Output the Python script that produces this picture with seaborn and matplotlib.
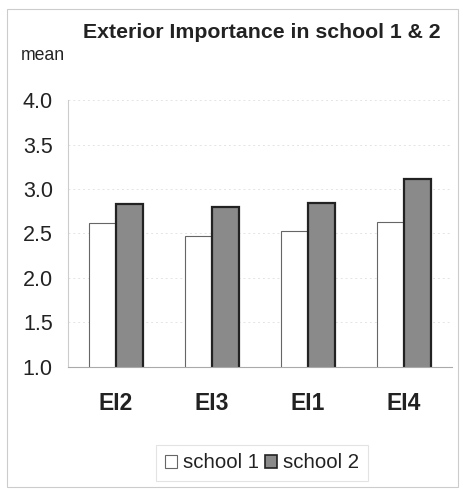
import matplotlib
matplotlib.use("Agg")
import matplotlib.pyplot as plt
import seaborn as sns
import pandas as pd
from matplotlib.patches import Rectangle

# Item means per school
items = ["EI2", "EI3", "EI1", "EI4"]
school1 = [2.62, 2.47, 2.53, 2.63]
school2 = [2.83, 2.80, 2.84, 3.11]
groups = ["school 1", "school 2"]
yticks = [1.0, 1.5, 2.0, 2.5, 3.0, 3.5, 4.0]

df = pd.DataFrame({
    "item": items * 2,
    "mean": school1 + school2,
    "school": [groups[0]] * len(items) + [groups[1]] * len(items),
})

sns.set_style("white")
plt.rcParams["font.family"] = ["Liberation Sans", "DejaVu Sans"]

fig = plt.figure(figsize=(4.63, 4.93), dpi=100)
ax = fig.add_axes([0.147, 0.256, 0.829, 0.541])

sns.barplot(data=df, x="item", y="mean", hue="school", order=items,
            hue_order=groups, palette=["#ffffff", "#8a8a8a"],
            width=0.57, ax=ax, legend=False)

edge = {groups[0]: ("#666666", 0.8), groups[1]: ("#222222", 1.6)}
for container, g in zip(ax.containers, groups):
    for bar in container:
        bar.set_edgecolor(edge[g][0])
        bar.set_linewidth(edge[g][1])

ax.set_ylim(1.0, 4.0)
ax.set_xlim(-0.5, 3.5)
ax.set_yticks(yticks)
ax.set_yticklabels([f"{v:.1f}" for v in yticks], fontsize=15.5, color="#222222")
ax.tick_params(axis="y", pad=11, length=0)
ax.tick_params(axis="x", pad=18, length=0)
for lab in ax.get_xticklabels():
    lab.set_fontweight("bold")
    lab.set_fontsize(16.5)
    lab.set_color("#222222")
ax.set_xlabel("")
ax.set_ylabel("")

for v in yticks[1:]:
    ax.axhline(v, color="#e4e4e4", lw=0.7, ls=(0, (2, 3)), zorder=0)

for s in ["top", "right"]:
    ax.spines[s].set_visible(False)
ax.spines["left"].set_color("#cccccc")
ax.spines["left"].set_linewidth(0.8)
ax.spines["bottom"].set_color("#aaaaaa")
ax.spines["bottom"].set_linewidth(0.8)

fig.text(0.566, 0.934, "Exterior Importance in school 1 & 2", ha="center",
         va="center", fontsize=15.3, fontweight="bold", color="#222222")
fig.text(0.045, 0.888, "mean", ha="left", va="center", fontsize=12.7,
         color="#222222")

# Outer frame
fig.patches.append(Rectangle((0.015, 0.012), 0.975, 0.97, transform=fig.transFigure,
                             fill=False, edgecolor="#cccccc", lw=0.8))

# Legend
handles = [Rectangle((0, 0), 1, 1, facecolor="#ffffff", edgecolor="#666666", lw=0.8),
           Rectangle((0, 0), 1, 1, facecolor="#8a8a8a", edgecolor="#222222", lw=1.2)]
leg = fig.legend(handles, groups, loc="center", bbox_to_anchor=(0.566, 0.061),
                 ncol=2, fontsize=14.7, frameon=True, fancybox=False,
                 handlelength=0.6, handleheight=0.6, handletextpad=0.3,
                 columnspacing=0.3, borderpad=0.4)
leg.get_frame().set_edgecolor("#dddddd")
leg.get_frame().set_linewidth(0.8)
for t in leg.get_texts():
    t.set_color("#222222")

fig.savefig("out.png", dpi=100)
